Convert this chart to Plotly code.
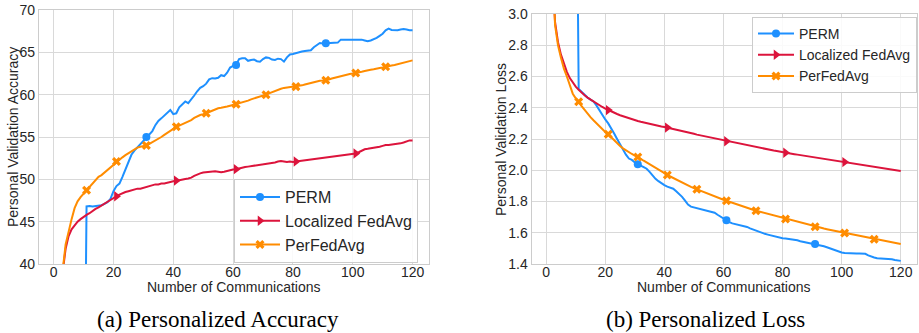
import plotly.graph_objects as go

# ---------------- data ----------------
rounds = list(range(1, 121))

acc_perm = [
    10.0, 10.0, 10.0, 10.0, 10.0, 10.0, 10.0, 10.0, 10.0, 10.0,
    46.8, 46.85, 46.8, 46.85, 46.9, 46.95, 47.1, 47.3, 47.7, 48.6,
    49.2, 49.5, 50.3, 51.1, 52.0, 52.9, 53.4, 53.8, 54.2, 54.6,
    55.0, 55.4, 55.7, 56.4, 56.9, 57.2, 57.5, 57.9, 58.2, 57.7,
    57.8, 58.5, 58.9, 59.2, 59.0, 59.4, 59.9, 60.4, 60.8, 61.0,
    61.3, 61.8, 61.95, 61.9, 62.0, 62.3, 62.2, 62.6, 63.2, 63.4,
    63.5, 64.2, 64.3, 64.3, 64.0, 64.1, 64.15, 63.95, 63.9, 64.2,
    64.4, 64.35, 64.15, 64.1, 64.25, 64.2, 63.9, 64.4, 64.75, 64.8,
    64.9, 65.05, 65.1, 65.15, 65.2, 65.25, 65.6, 65.9, 66.1, 66.05,
    66.07, 66.1, 66.05, 66.1, 66.15, 66.5, 66.5, 66.45, 66.5, 66.5,
    66.5, 66.45, 66.5, 66.4, 66.3, 66.4, 66.55, 66.7, 66.95, 67.2,
    67.6, 67.8, 67.65, 67.6, 67.6, 67.7, 67.75, 67.7, 67.6, 67.6,
]
acc_fedavg = [
    25.0, 33.0, 39.0, 41.8, 43.3, 44.1, 44.6, 45.0, 45.3, 45.6,
    45.8, 46.0, 46.3, 46.5, 46.7, 46.9, 47.2, 47.4, 47.6, 47.8,
    48.0, 48.2, 48.4, 48.5, 48.6, 48.7, 48.8, 48.9, 48.9, 49.0,
    49.1, 49.2, 49.3, 49.4, 49.4, 49.5, 49.5, 49.6, 49.7, 49.8,
    49.85, 49.9, 50.0, 50.05, 50.1, 50.2, 50.4, 50.6, 50.7, 50.8,
    50.85, 50.9, 50.9, 50.95, 50.9, 50.85, 50.9, 51.0, 51.1, 51.15,
    51.2, 51.3, 51.35, 51.45, 51.5, 51.55, 51.6, 51.65, 51.7, 51.75,
    51.8, 51.85, 51.95, 52.0, 52.1, 52.15, 52.1, 52.05, 52.1, 52.05,
    52.1, 52.15, 52.2, 52.2, 52.25, 52.3, 52.35, 52.4, 52.45, 52.5,
    52.55, 52.6, 52.65, 52.7, 52.75, 52.8, 52.85, 52.9, 52.95, 53.0,
    53.05, 53.2, 53.4, 53.55, 53.6, 53.65, 53.75, 53.8, 53.85, 53.95,
    54.05, 54.05, 54.1, 54.15, 54.15, 54.25, 54.35, 54.45, 54.6, 54.6,
]
acc_perfedavg = [
    22.0, 32.0, 39.2, 42.3, 44.0, 45.3, 46.6, 47.4, 47.9, 48.3,
    48.7, 49.2, 49.6, 50.0, 50.3, 50.5, 50.8, 51.1, 51.4, 51.8,
    52.1, 52.3, 52.6, 52.85, 53.1, 53.35, 53.55, 53.75, 53.85, 53.95,
    54.0, 54.2, 54.4, 54.5, 54.75, 55.0, 55.25, 55.5, 55.75, 56.0,
    56.2, 56.35, 56.5, 56.7, 56.85, 57.0, 57.25, 57.45, 57.6, 57.7,
    57.8, 57.95, 58.1, 58.3, 58.4, 58.45, 58.5, 58.6, 58.7, 58.8,
    58.86, 58.95, 59.05, 59.15, 59.3, 59.45, 59.55, 59.65, 59.8, 59.9,
    60.0, 60.15, 60.3, 60.45, 60.6, 60.7, 60.8, 60.85, 60.9, 60.92,
    60.95, 61.0, 61.1, 61.2, 61.3, 61.4, 61.5, 61.6, 61.65, 61.68,
    61.7, 61.8, 61.9, 62.0, 62.05, 62.15, 62.25, 62.35, 62.45, 62.5,
    62.55, 62.6, 62.7, 62.8, 62.9, 62.95, 63.0, 63.1, 63.15, 63.2,
    63.3, 63.4, 63.45, 63.5, 63.6, 63.7, 63.8, 63.85, 63.95, 64.05,
]

loss_perm = [
    4.6, 4.6, 4.6, 4.6, 4.6, 4.6, 4.6, 4.6, 4.6, 4.6,
    2.52, 2.5, 2.482, 2.466, 2.452, 2.44, 2.415, 2.385, 2.35, 2.325,
    2.3, 2.27, 2.235, 2.2, 2.165, 2.13, 2.1, 2.075, 2.066, 2.05,
    2.038, 2.03, 2.02, 2.01, 1.99, 1.965, 1.945, 1.93, 1.915, 1.905,
    1.895, 1.89, 1.882, 1.865, 1.85, 1.83, 1.805, 1.78, 1.767, 1.762,
    1.758, 1.752, 1.748, 1.742, 1.738, 1.735, 1.728, 1.715, 1.702, 1.69,
    1.68, 1.668, 1.66, 1.656, 1.652, 1.648, 1.643, 1.637, 1.628, 1.62,
    1.613, 1.607, 1.6, 1.593, 1.588, 1.583, 1.577, 1.571, 1.567, 1.565,
    1.563, 1.561, 1.559, 1.557, 1.552, 1.546, 1.542, 1.538, 1.534, 1.53,
    1.528, 1.524, 1.519, 1.513, 1.507, 1.5, 1.492, 1.484, 1.478, 1.474,
    1.471, 1.469, 1.468, 1.468, 1.467, 1.467, 1.466, 1.465, 1.455, 1.447,
    1.442, 1.437, 1.436, 1.435, 1.434, 1.433, 1.43, 1.426, 1.422, 1.42,
]
loss_fedavg = [
    4.5, 3.3, 2.95, 2.82, 2.74, 2.68, 2.63, 2.59, 2.56, 2.535,
    2.515, 2.495, 2.48, 2.465, 2.452, 2.44, 2.43, 2.415, 2.405, 2.395,
    2.385, 2.375, 2.367, 2.36, 2.352, 2.345, 2.338, 2.332, 2.326, 2.32,
    2.315, 2.31, 2.305, 2.3, 2.296, 2.292, 2.288, 2.284, 2.28, 2.277,
    2.273, 2.268, 2.264, 2.259, 2.255, 2.25, 2.246, 2.241, 2.237, 2.233,
    2.228, 2.224, 2.22, 2.216, 2.212, 2.207, 2.203, 2.199, 2.195, 2.19,
    2.186, 2.182, 2.178, 2.174, 2.17, 2.166, 2.162, 2.159, 2.155, 2.151,
    2.148, 2.144, 2.14, 2.137, 2.133, 2.13, 2.126, 2.123, 2.119, 2.116,
    2.112, 2.109, 2.106, 2.103, 2.1, 2.097, 2.094, 2.091, 2.088, 2.085,
    2.082, 2.079, 2.076, 2.073, 2.07, 2.067, 2.064, 2.061, 2.058, 2.055,
    2.052, 2.049, 2.046, 2.043, 2.04, 2.037, 2.034, 2.031, 2.028, 2.025,
    2.022, 2.019, 2.016, 2.013, 2.01, 2.007, 2.004, 2.001, 1.998, 1.995,
]
loss_perfedavg = [
    4.8, 3.4, 2.93, 2.8, 2.72, 2.65, 2.6, 2.54, 2.49, 2.46,
    2.439, 2.41, 2.385, 2.36, 2.34, 2.32, 2.3, 2.28, 2.26, 2.245,
    2.23, 2.21, 2.19, 2.172, 2.155, 2.14, 2.127, 2.115, 2.104, 2.094,
    2.085, 2.073, 2.061, 2.049, 2.037, 2.025, 2.014, 2.003, 1.992, 1.981,
    1.97, 1.96, 1.95, 1.94, 1.93, 1.921, 1.912, 1.903, 1.894, 1.886,
    1.878, 1.87, 1.862, 1.854, 1.846, 1.839, 1.832, 1.825, 1.818, 1.811,
    1.805, 1.798, 1.792, 1.785, 1.779, 1.772, 1.766, 1.76, 1.753, 1.747,
    1.741, 1.736, 1.73, 1.725, 1.72, 1.714, 1.709, 1.704, 1.698, 1.693,
    1.688, 1.683, 1.678, 1.673, 1.668, 1.663, 1.658, 1.653, 1.648, 1.644,
    1.639, 1.635, 1.631, 1.627, 1.623, 1.619, 1.615, 1.611, 1.607, 1.603,
    1.599, 1.595, 1.591, 1.587, 1.583, 1.579, 1.575, 1.571, 1.567, 1.563,
    1.559, 1.556, 1.552, 1.549, 1.545, 1.542, 1.538, 1.535, 1.531, 1.528,
]

series_names = ["PERM", "Localized FedAvg", "PerFedAvg"]
series_colors = ["#1E90FF", "#DC143C", "#FF8C00"]
series_symbols = ["circle", "triangle-right", "x"]
series_marker_sizes = [8, 9, 8]
mark_every = [30, 20, 10]

x_title = "Number of Communications"
y_titles = ["Personal Validation Accuracy", "Personal Validation Loss"]
captions = ["(a) Personalized Accuracy", "(b) Personalized Loss"]

# ---------------- figure ----------------
W, H = 919, 333
fig = go.Figure()

panels = [
    dict(data=[acc_perm, acc_fedavg, acc_perfedavg], xa="x", ya="y", legend="legend"),
    dict(data=[loss_perm, loss_fedavg, loss_perfedavg], xa="x2", ya="y2", legend="legend2"),
]

for p in panels:
    for vals, name, col, sym, ms, step in zip(p["data"], series_names, series_colors,
                                             series_symbols, series_marker_sizes, mark_every):
        fig.add_trace(go.Scatter(
            x=rounds, y=vals, mode="lines", line=dict(color=col, width=2),
            xaxis=p["xa"], yaxis=p["ya"], showlegend=False, hoverinfo="skip"))
        fig.add_trace(go.Scatter(
            x=rounds[::step], y=vals[::step], mode="markers",
            marker=dict(color=col, symbol=sym, size=ms, line=dict(width=0)),
            xaxis=p["xa"], yaxis=p["ya"], showlegend=False, cliponaxis=True))
        fig.add_trace(go.Scatter(
            x=[None], y=[None], mode="lines+markers", name=name,
            line=dict(color=col, width=2),
            marker=dict(color=col, symbol=sym, size=ms, line=dict(width=0)),
            xaxis=p["xa"], yaxis=p["ya"], legend=p["legend"]))

def px_x(v):
    return v / W

def px_y(v):
    return 1 - v / H

axis_common = dict(
    showgrid=True, gridcolor="#d9d9d9", gridwidth=1.2,
    showline=True, linecolor="#cccccc", linewidth=1.2, mirror=True,
    zeroline=False, ticks="", ticklen=0,
    tickfont=dict(family="Liberation Sans, Arial, sans-serif", size=14, color="#262626"),
)

fig.update_layout(
    width=W, height=H,
    margin=dict(l=0, r=0, t=0, b=0, autoexpand=False),
    paper_bgcolor="white", plot_bgcolor="white",
    xaxis=dict(domain=[px_x(39), px_x(429)], range=[-4.9, 125.5], tickvals=[0, 20, 40, 60, 80, 100, 120],
               anchor="y", ticklabelstandoff=-5, **axis_common),
    yaxis=dict(domain=[px_y(264), px_y(10)], range=[40, 70], tickvals=[40, 45, 50, 55, 60, 65, 70],
               anchor="x", **axis_common),
    xaxis2=dict(domain=[px_x(531.7), px_x(917)], range=[-4.9, 125.5], tickvals=[0, 20, 40, 60, 80, 100, 120],
                anchor="y2", ticklabelstandoff=-5, **axis_common),
    yaxis2=dict(domain=[px_y(264), px_y(14)], range=[1.4, 3.0],
                tickvals=[1.4, 1.6, 1.8, 2.0, 2.2, 2.4, 2.6, 2.8, 3.0], tickformat=".1f",
                anchor="x2", **axis_common),
    legend=dict(x=px_x(234), y=px_y(179), xanchor="left", yanchor="top",
                bgcolor="rgba(255,255,255,0.85)", bordercolor="#cccccc", borderwidth=1,
                font=dict(family="Liberation Sans, Arial, sans-serif", size=16, color="#262626"),
                itemwidth=40, tracegroupgap=0),
    legend2=dict(x=px_x(752), y=px_y(17), xanchor="left", yanchor="top",
                 bgcolor="rgba(255,255,255,0.85)", bordercolor="#cccccc", borderwidth=1,
                 font=dict(family="Liberation Sans, Arial, sans-serif", size=14, color="#262626"),
                 itemwidth=36, tracegroupgap=0),
)

label_font = dict(family="Liberation Sans, Arial, sans-serif", size=14, color="#262626")
ann = []
# x-axis titles
ann.append(dict(text=x_title, x=px_x(234), y=px_y(286.5), xref="paper", yref="paper",
                xanchor="center", yanchor="middle", showarrow=False, font=label_font))
ann.append(dict(text=x_title, x=px_x(724), y=px_y(286.5), xref="paper", yref="paper",
                xanchor="center", yanchor="middle", showarrow=False, font=label_font))
# y-axis titles
ann.append(dict(text=y_titles[0], x=px_x(13), y=px_y(137), xref="paper", yref="paper",
                xanchor="center", yanchor="middle", textangle=-90, showarrow=False, font=label_font))
ann.append(dict(text=y_titles[1], x=px_x(501), y=px_y(139), xref="paper", yref="paper",
                xanchor="center", yanchor="middle", textangle=-90, showarrow=False, font=label_font))
# captions
cap_font = dict(family="Liberation Serif, Times New Roman, serif", size=23, color="black")
ann.append(dict(text=captions[0], x=px_x(218), y=px_y(319), xref="paper", yref="paper",
                xanchor="center", yanchor="middle", showarrow=False, font=cap_font))
ann.append(dict(text=captions[1], x=px_x(705.5), y=px_y(319), xref="paper", yref="paper",
                xanchor="center", yanchor="middle", showarrow=False, font=cap_font))
fig.update_layout(annotations=ann)

fig.write_html("out.html")
